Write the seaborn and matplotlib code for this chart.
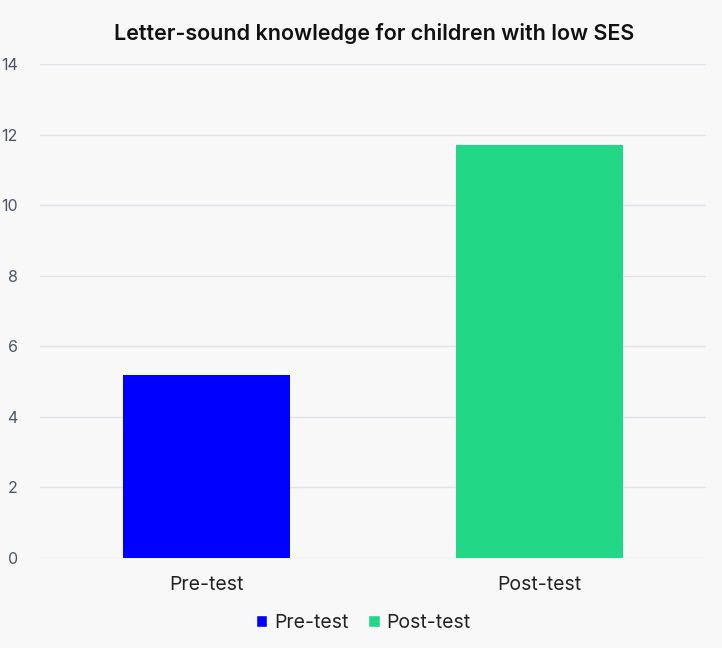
import matplotlib
matplotlib.use("Agg")
import matplotlib.pyplot as plt
import seaborn as sns
import pandas as pd
from matplotlib.patches import Patch

categories = ["Pre-test", "Post-test"]
values = [5.2, 11.7]
colors = ["#0000ff", "#22d886"]
yticks = [0, 2, 4, 6, 8, 10, 12, 14]

sns.set_theme(style="white")
plt.rcParams['font.family'] = ['Inter', 'DejaVu Sans']

bg = "#f8f8f8"
df = pd.DataFrame({"phase": categories, "score": values})

fig = plt.figure(figsize=(7.22, 6.48), dpi=100, facecolor=bg)
ax = fig.add_axes([40/722, 1-558/648, 666/722, 494/648])
ax.set_facecolor(bg)

sns.barplot(data=df, x="phase", y="score", hue="phase", palette=colors,
            width=0.5, ax=ax, legend=False, saturation=1, zorder=3, linewidth=0)

ax.set_ylim(0, 14)
ax.set_yticks(yticks)
ax.set_yticklabels([str(t) for t in yticks], fontsize=11.5, color="#4a5568")
ax.tick_params(axis='y', length=0, pad=16)
ax.tick_params(axis='x', length=0, pad=13, labelsize=14, labelcolor="#222222")
ax.grid(axis='y', color="#e0e3ea", linewidth=1, zorder=0)
for s in ax.spines.values():
    s.set_visible(False)
ax.set_xlabel("")
ax.set_ylabel("")

fig.text(374/722, 1-33/648, "Letter-sound knowledge for children with low SES",
         ha="center", va="center", fontsize=15.5, fontweight="semibold", color="#111111")

handles = [Patch(facecolor=c, label=l) for c, l in zip(colors, categories)]
fig.legend(handles=handles, loc="center", bbox_to_anchor=(363/722, 1-623/648), ncol=2,
           frameon=False, fontsize=14, handlelength=0.6, handleheight=0.6,
           handletextpad=0.35, columnspacing=1.0, labelcolor="#222222")

fig.savefig("out.png", dpi=100, facecolor=bg)
